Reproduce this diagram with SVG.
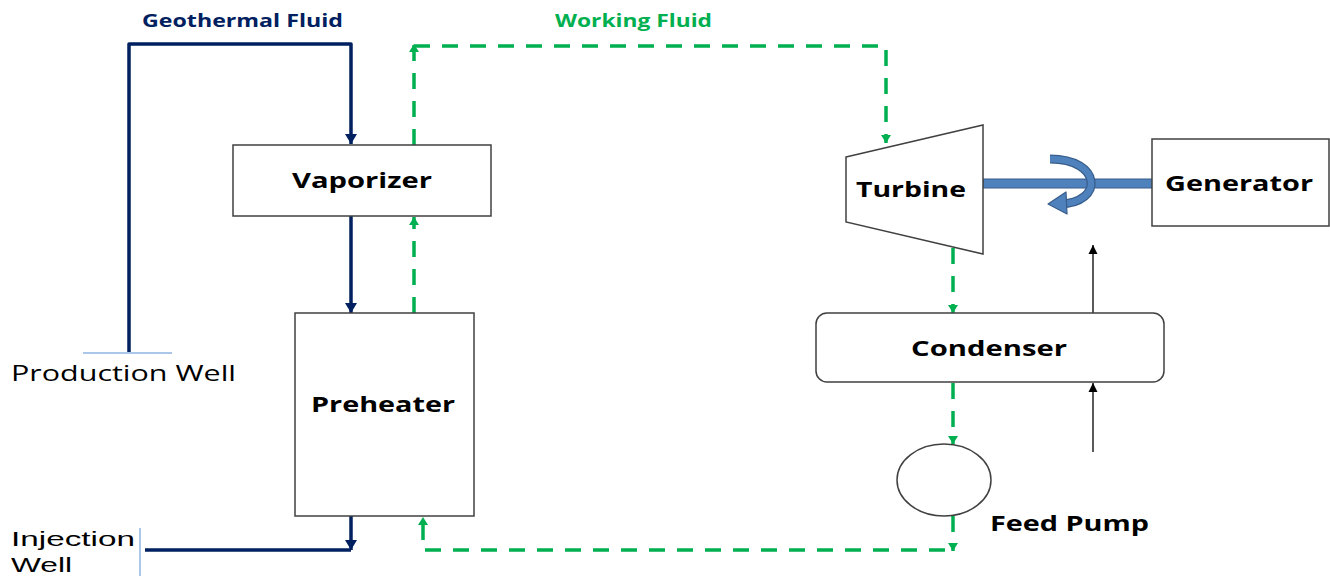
<svg xmlns="http://www.w3.org/2000/svg" width="1330" height="577" viewBox="0 0 1330 577">
  <style>
    .box { fill: #ffffff; stroke: #404040; stroke-width: 1.5; }
    .lbl { font-family: "Open Sans", "Liberation Sans", sans-serif; font-weight: bold; fill: #000000; font-size: 21px; }
    .well { font-family: "Open Sans", "Liberation Sans", sans-serif; fill: #000000; font-size: 22px; }
    .well2 { font-family: "Liberation Sans", Arial, sans-serif; fill: #000000; font-size: 21px; }
    .hot { fill: none; stroke: #002060; stroke-width: 3.5; stroke-linejoin: round; }
    .wf { fill: none; stroke: #00b050; stroke-width: 3.5; stroke-dasharray: 16 12; }
    .thin { fill: none; stroke: #000000; stroke-width: 1.3; }
    .tick { fill: none; stroke: #8eb4e3; stroke-width: 1.5; }
  </style>
  <defs>
    <marker id="navyHead" markerUnits="userSpaceOnUse" markerWidth="14" markerHeight="14" viewBox="0 0 14 14" refX="12" refY="7" orient="auto">
      <path d="M2,1 L12,7 L2,13 Z" fill="#002060"/>
    </marker>
    <marker id="greenHead" markerUnits="userSpaceOnUse" markerWidth="12" markerHeight="12" viewBox="0 0 12 12" refX="10" refY="6" orient="auto">
      <path d="M2,1 L10,6 L2,11 Z" fill="#00b050"/>
    </marker>
    <marker id="blackHead" markerUnits="userSpaceOnUse" markerWidth="12" markerHeight="12" viewBox="0 0 12 12" refX="10" refY="6" orient="auto">
      <path d="M1,1.5 L10,6 L1,10.5 Z" fill="#000000"/>
    </marker>
  </defs>

  <!-- stream labels -->
  <text x="142" y="27" font-family="Open Sans, Liberation Sans, sans-serif" font-weight="bold" font-size="17" fill="#002060" textLength="201" lengthAdjust="spacingAndGlyphs">Geothermal Fluid</text>
  <text x="555" y="27" font-family="Open Sans, Liberation Sans, sans-serif" font-weight="bold" font-size="17" fill="#00b050" textLength="157" lengthAdjust="spacingAndGlyphs">Working Fluid</text>

  <g id="connectors">
    <!-- geothermal brine loop -->
    <path class="hot" d="M129,352 V44 H351 V144" marker-end="url(#navyHead)"/>
    <path class="hot" d="M351,216 V313" marker-end="url(#navyHead)"/>
    <path class="hot" d="M351,516 V550" marker-end="url(#navyHead)"/>
    <path class="hot" d="M145,550 H351"/>

    <!-- working fluid loop -->
    <path class="wf" d="M414,145 V44" marker-end="url(#greenHead)"/>
    <path class="wf" d="M414,46 H886 V143" marker-end="url(#greenHead)"/>
    <path class="wf" d="M414,313 V217" marker-end="url(#greenHead)"/>
    <path class="wf" d="M953,248 V313" marker-end="url(#greenHead)"/>
    <path class="wf" d="M953,383 V444" marker-end="url(#greenHead)"/>
    <path class="wf" d="M953,516 V551" marker-end="url(#greenHead)"/>
    <path class="wf" d="M945,550 H423 V517" marker-end="url(#greenHead)"/>

    <!-- cooling water -->
    <path class="thin" d="M1093,313 V245" marker-end="url(#blackHead)"/>
    <path class="thin" d="M1093,452 V383" marker-end="url(#blackHead)"/>

    <!-- shaft between turbine and generator -->
    <rect x="983" y="179" width="170" height="9" fill="#4f81bd" stroke="#385d8a" stroke-width="1"/>
    <!-- rotation arrow -->
    <path d="M1050,159 C1102,159 1104,203 1060,204" fill="none" stroke="#385d8a" stroke-width="9"/>
    <path d="M1050,159 C1102,159 1104,203 1060,204" fill="none" stroke="#4f81bd" stroke-width="6.5"/>
    <path d="M1048,204 L1066,192 L1067,214 Z" fill="#4f81bd" stroke="#385d8a" stroke-width="1.2" stroke-linejoin="round"/>
  </g>

  <g id="production-well">
    <line class="tick" x1="83" y1="353" x2="172" y2="353"/>
    <text class="well" x="11" y="381" textLength="225" lengthAdjust="spacingAndGlyphs">Production Well</text>
  </g>

  <g id="injection-well">
    <line class="tick" x1="140" y1="528" x2="140" y2="576"/>
    <text class="well2" x="11" y="546" textLength="124" lengthAdjust="spacingAndGlyphs">Injection</text>
    <text class="well2" x="11" y="572" textLength="61" lengthAdjust="spacingAndGlyphs">Well</text>
  </g>

  <g id="vaporizer">
    <rect class="box" x="233" y="145" width="258" height="71"/>
    <text class="lbl" x="292" y="188" textLength="140" lengthAdjust="spacingAndGlyphs">Vaporizer</text>
  </g>

  <g id="preheater">
    <rect class="box" x="295" y="313" width="179" height="203"/>
    <text class="lbl" x="311" y="412" textLength="144" lengthAdjust="spacingAndGlyphs">Preheater</text>
  </g>

  <g id="turbine">
    <path class="box" d="M846,157 L983,125 L983,254 L846,222 Z"/>
    <text class="lbl" x="856" y="197" textLength="110" lengthAdjust="spacingAndGlyphs">Turbine</text>
  </g>

  <g id="generator">
    <rect class="box" x="1152" y="139" width="177" height="87"/>
    <text class="lbl" x="1165" y="191" textLength="148" lengthAdjust="spacingAndGlyphs">Generator</text>
  </g>

  <g id="condenser">
    <rect class="box" x="816" y="313" width="348" height="69" rx="11" ry="11"/>
    <text class="lbl" x="911" y="356" textLength="156" lengthAdjust="spacingAndGlyphs">Condenser</text>
  </g>

  <g id="feed-pump">
    <ellipse class="box" cx="944" cy="480" rx="47" ry="36"/>
    <text class="lbl" x="990" y="531" textLength="159" lengthAdjust="spacingAndGlyphs">Feed Pump</text>
  </g>
</svg>
